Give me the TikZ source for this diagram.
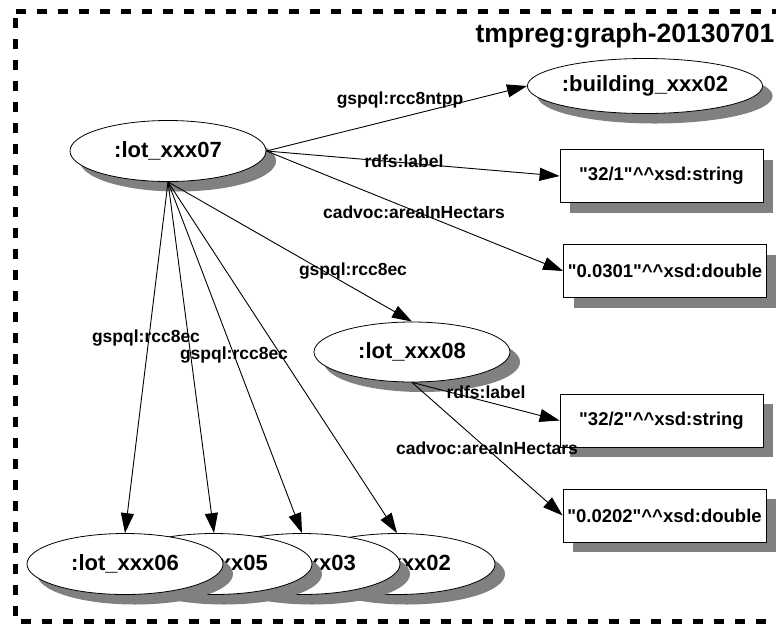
\documentclass[tikz,border=0pt]{standalone}
\usepackage{fontspec}
\newfontfamily\lib{Liberation Sans}
\usetikzlibrary{shapes.geometric,arrows.meta,shadows}
\definecolor{shadowgray}{RGB}{128,128,128}
\newcommand{\qq}{\symbol{34}}
\begin{document}
\begin{tikzpicture}[x=1pt,y=-1pt,
  ell/.style={ellipse,draw=black,line width=0.8pt,fill=white,inner sep=0pt,
    minimum width=196pt,minimum height=61pt,
    font=\lib\fontsize{22}{26}\selectfont\bfseries,
    drop shadow={shadow xshift=10pt,shadow yshift=-10pt,fill=shadowgray,opacity=1}},
  lit/.style={rectangle,draw=black,line width=0.8pt,fill=white,inner sep=0pt,
    minimum width=203pt,minimum height=53pt,
    font=\lib\fontsize{18.5}{22}\selectfont\bfseries,
    drop shadow={shadow xshift=10pt,shadow yshift=-10pt,fill=shadowgray,opacity=1}},
  edge/.style={draw=black,line width=0.9pt,-{Triangle[length=20pt,width=13pt]}},
  elabel/.style={inner sep=0pt,font=\lib\fontsize{17.5}{20}\selectfont\bfseries},
  frame/.style={draw=black,line width=5pt,dash pattern=on 10pt off 11pt}
]
\useasboundingbox (0,0) rectangle (776,625);
\fill[white] (0,0) rectangle (776,625);
\draw[frame] (15.5,11.5) -- (800,11.5) -- (800,621) -- (15.5,621) -- cycle;
\node[font=\lib\fontsize{26.5}{30}\selectfont\bfseries,inner sep=0pt] (title) at (625,36) {tmpreg:graph-20130701};

\node[ell] (lot07) at (168,151) {:lot\_xxx07};
\node[ell,minimum height=55pt] (building) at (645,86) {:building\_xxx02};
\node[lit] (s1) at (661.5,176) {\qq32/1\qq\^{}\^{}xsd:string};
\node[lit] (d1) at (665,271) {\qq0.0301\qq\^{}\^{}xsd:double};
\node[ell,minimum height=60pt] (lot08) at (412,352) {:lot\_xxx08};
\node[lit] (s2) at (661.5,420.5) {\qq32/2\qq\^{}\^{}xsd:string};
\node[lit] (d2) at (664.5,515.5) {\qq0.0202\qq\^{}\^{}xsd:double};
\node[ell] (lot02) at (397,564) {:lot\_xxx02};
\node[ell] (lot03) at (302,564) {:lot\_xxx03};
\node[ell] (lot05) at (214,564) {:lot\_xxx05};
\node[ell] (lot06) at (125,564) {:lot\_xxx06};

\draw[edge] (lot07.east) -- (building.west);
\draw[edge] (lot07.east) -- (s1.west);
\draw[edge] (lot07.east) -- (d1.west);
\draw[edge] (lot07.south) -- (lot08.north);
\draw[edge] (lot07.south) -- (lot06.north);
\draw[edge] (lot07.south) -- (lot05.north);
\draw[edge] (lot07.south) -- (lot03.north);
\draw[edge] (lot07.south) -- (lot02.north);
\draw[edge] (lot08.south) -- (s2.west);
\draw[edge] (lot08.south) -- (d2.west);

\node[elabel] (l1) at (400,100) {gspql:rcc8ntpp};
\node[elabel] (l2) at (404,161) {rdfs:label};
\node[elabel] (l3) at (414,212) {cadvoc:areaInHectars};
\node[elabel] (l4) at (353,271) {gspql:rcc8ec};
\node[elabel] (l5) at (146,338) {gspql:rcc8ec};
\node[elabel] (l6) at (234,355) {gspql:rcc8ec};
\node[elabel] (l7) at (486,392) {rdfs:label};
\node[elabel] (l8) at (487,448) {cadvoc:areaInHectars};
\end{tikzpicture}
\end{document}
